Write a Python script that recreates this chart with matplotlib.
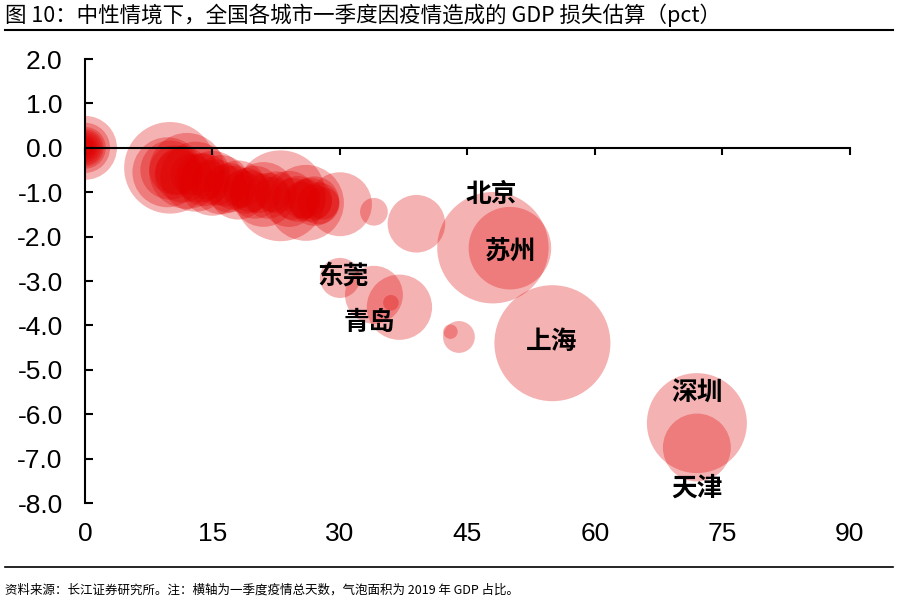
import matplotlib
matplotlib.use('Agg')
import matplotlib.pyplot as plt

# days of epidemic in Q1 (x), GDP loss in pct (y), 2019 GDP share in % (bubble area)
days = [0, 0, 0, 0, 0, 0, 0, 0, 0, 0,
        10, 9.7, 10, 10.5, 12, 11.5, 13, 14, 15, 16, 17, 18, 19, 20, 21,
        11, 12.5, 13.5, 14.5, 15.5, 16.5, 17.5, 18.5, 19.5, 20.5, 21.5, 22, 24.5, 25.5, 26, 27, 28,
        23, 22.5, 24, 25, 26, 26.5, 27, 27.5, 30, 34, 39,
        48, 50, 55, 44, 43, 72, 72, 30, 34, 37, 36]
loss = [0, 0, 0, 0, 0, 0, 0, 0, 0, 0,
        -0.45, -0.55, -0.5, -0.5, -0.52, -0.6, -0.65, -0.72, -0.8, -0.83, -0.9, -0.95, -0.97, -1.0, -1.05,
        -0.55, -0.6, -0.68, -0.72, -0.78, -0.85, -0.9, -0.93, -0.98, -1.02, -1.08, -1.05, -1.15, -1.18, -1.15, -1.22, -1.25,
        -1.08, -1.0, -1.15, -1.15, -1.24, -1.17, -1.2, -1.25, -1.27, -1.44, -1.71,
        -2.25, -2.26, -4.4, -4.26, -4.14, -6.2, -6.75, -2.93, -3.31, -3.59, -3.49]
gdp_share = [1.17, 0.72, 0.5, 0.4, 0.33, 0.25, 0.18, 0.14, 0.1, 0.08,
             2.40, 1.40, 1.0, 0.7, 1.65, 0.9, 1.4, 0.8, 1.2, 1.0, 0.7, 1.0, 0.6, 0.8, 1.2,
             0.6, 0.5, 0.7, 0.45, 0.6, 0.5, 0.55, 0.4, 0.5, 0.45, 0.6, 0.35, 0.5, 0.4, 0.45, 0.35, 0.3,
             2.36, 0.5, 0.9, 0.6, 1.65, 0.55, 0.7, 0.5, 1.17, 0.22, 0.95,
             3.55, 1.95, 3.85, 0.29, 0.06, 2.86, 1.32, 0.46, 0.96, 1.22, 0.07]

labels = ['北京', '苏州', '东莞', '青岛', '上海', '深圳', '天津']
label_x = [47.8, 50.1, 30.4, 33.5, 54.9, 72.0, 72.0]
label_y = [-1.06, -2.33, -2.90, -3.94, -4.37, -5.50, -7.66]

xticks = [0, 15, 30, 45, 60, 75, 90]
yticks = [2.0, 1.0, 0.0, -1.0, -2.0, -3.0, -4.0, -5.0, -6.0, -7.0, -8.0]

plt.rcParams['font.family'] = ['Liberation Sans Narrow', 'Liberation Sans', 'Noto Sans CJK SC']
cjk = ['Noto Sans CJK SC', 'DejaVu Sans']

fig = plt.figure(figsize=(9.02, 6.13), dpi=100)
ax = fig.add_axes([0.0942, 0.1794, 0.848, 0.7243])

sizes = [1812 * g for g in gdp_share]
ax.scatter(days, loss, s=sizes, color='#E00000', alpha=0.3, linewidths=0)

for t, lx, ly in zip(labels, label_x, label_y):
    ax.text(lx, ly, t, family=cjk, fontsize=18.5, fontweight='heavy',
            ha='center', va='center')

ax.set_xlim(0, 90)
ax.set_ylim(-8, 2)
ax.spines['top'].set_visible(False)
ax.spines['right'].set_visible(False)
ax.spines['bottom'].set_position(('data', 0))
ax.spines['bottom'].set_linewidth(1.5)
ax.spines['left'].set_linewidth(1.5)

ax.set_xticks(xticks)
ax.tick_params(axis='x', direction='out', length=5, width=1.5, labelbottom=False)
ax.set_yticks(yticks)
ax.set_yticklabels(['%.1f' % v for v in yticks])
ax.tick_params(axis='y', direction='in', length=6, width=1.5, labelsize=19, pad=16)

sec = ax.secondary_xaxis('bottom')
sec.set_xticks(xticks)
sec.set_xticklabels([str(v) for v in xticks])
sec.spines['bottom'].set_visible(False)
sec.tick_params(length=0, labelsize=19, pad=14)

fig.text(0.006, 0.975, '图 10：中性情境下，全国各城市一季度因疫情造成的 GDP 损失估算（pct）',
         family=cjk, fontsize=15.5, ha='left', va='center')
fig.add_artist(plt.Line2D([0.006, 0.99], [0.951, 0.951], color='black', lw=1.5))
fig.add_artist(plt.Line2D([0.006, 0.99], [0.075, 0.075], color='black', lw=1.2))
fig.text(0.006, 0.037, '资料来源：长江证券研究所。注：横轴为一季度疫情总天数，气泡面积为 2019 年 GDP 占比。',
         family=cjk, fontsize=9, ha='left', va='center')

fig.savefig('out.png', dpi=100)
